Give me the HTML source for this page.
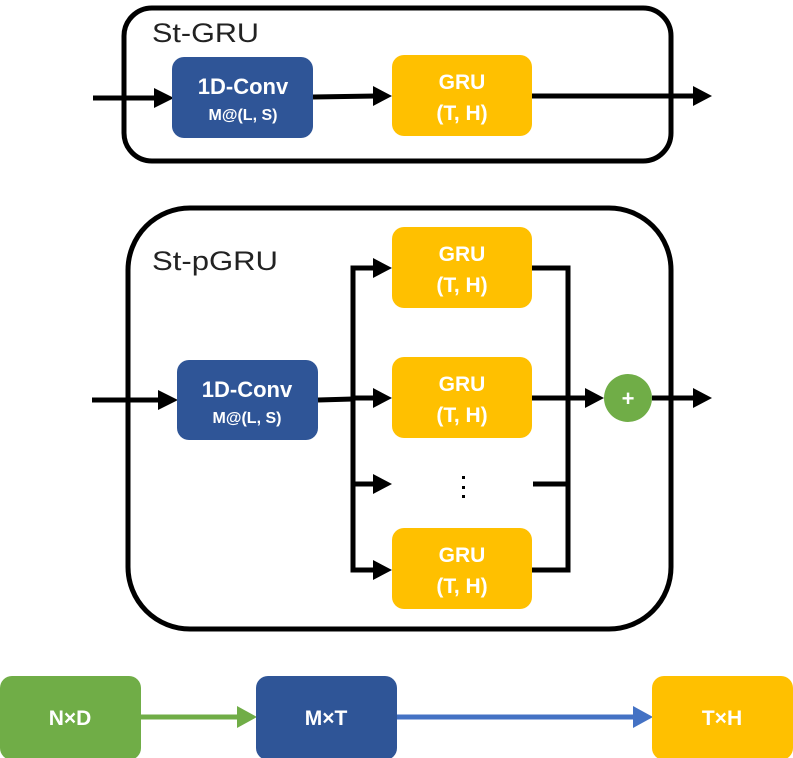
<!DOCTYPE html>
<html><head><meta charset="utf-8"><style>
html,body{margin:0;padding:0;background:#fff;}
svg{display:block;}
text{font-family:"Liberation Sans",sans-serif;}
</style></head><body>
<svg width="793" height="758" viewBox="0 0 793 758" xmlns="http://www.w3.org/2000/svg">
<!-- St-GRU box -->
<rect x="124" y="8" width="547" height="153" rx="28" fill="none" stroke="#000" stroke-width="5"/>
<text x="152" y="42" font-size="27" fill="#222" textLength="107" lengthAdjust="spacingAndGlyphs">St-GRU</text>
<line x1="93" y1="98" x2="156" y2="98" stroke="#000" stroke-width="5"/>
<polygon points="154,88 174,98 154,108" fill="#000"/>
<line x1="313" y1="97" x2="376" y2="96" stroke="#000" stroke-width="5"/>
<polygon points="373,86 392,96 373,106" fill="#000"/>
<line x1="532" y1="96" x2="696" y2="96" stroke="#000" stroke-width="5"/>
<polygon points="693,86 712,96 693,106" fill="#000"/>
<rect x="172" y="57" width="141" height="81" rx="12" fill="#2f5597"/>
<text x="243" y="94" font-size="22" font-weight="bold" fill="#fff" text-anchor="middle">1D-Conv</text>
<text x="243" y="120" font-size="16" font-weight="bold" fill="#fff" text-anchor="middle">M@(L, S)</text>
<rect x="392" y="55" width="140" height="81" rx="12" fill="#ffc000"/>
<text x="462" y="89" font-size="21" font-weight="bold" fill="#fff" text-anchor="middle">GRU</text>
<text x="462" y="120" font-size="21" font-weight="bold" fill="#fff" text-anchor="middle">(T, H)</text>

<!-- St-pGRU box -->
<rect x="128" y="208" width="543" height="421" rx="62" fill="none" stroke="#000" stroke-width="5"/>
<text x="152" y="270" font-size="27" fill="#222" textLength="126" lengthAdjust="spacingAndGlyphs">St-pGRU</text>
<line x1="92" y1="400" x2="160" y2="400" stroke="#000" stroke-width="5"/>
<polygon points="158,390 178,400 158,410" fill="#000"/>
<rect x="177" y="360" width="141" height="80" rx="12" fill="#2f5597"/>
<text x="247" y="397" font-size="22" font-weight="bold" fill="#fff" text-anchor="middle">1D-Conv</text>
<text x="247" y="423" font-size="16" font-weight="bold" fill="#fff" text-anchor="middle">M@(L, S)</text>
<line x1="318" y1="400" x2="353" y2="399" stroke="#000" stroke-width="5"/>
<polyline points="374,268 353,268 353,570 374,570" fill="none" stroke="#000" stroke-width="5"/>
<line x1="353" y1="398" x2="374" y2="398" stroke="#000" stroke-width="5"/>
<line x1="353" y1="484" x2="374" y2="484" stroke="#000" stroke-width="5"/>
<polygon points="373,258 392,268 373,278" fill="#000"/>
<polygon points="373,388 392,398 373,408" fill="#000"/>
<polygon points="373,474 392,484 373,494" fill="#000"/>
<polygon points="373,560 392,570 373,580" fill="#000"/>
<polyline points="532,268 568,268 568,570 532,570" fill="none" stroke="#000" stroke-width="5"/>
<line x1="532" y1="398" x2="588" y2="398" stroke="#000" stroke-width="5"/>
<line x1="533" y1="484" x2="568" y2="484" stroke="#000" stroke-width="5"/>
<polygon points="585,388 604,398 585,408" fill="#000"/>
<line x1="652" y1="398" x2="696" y2="398" stroke="#000" stroke-width="5"/>
<polygon points="693,388 712,398 693,408" fill="#000"/>
<circle cx="628" cy="398" r="24" fill="#70ad47"/>
<text x="628" y="406" font-size="22" font-weight="bold" fill="#fff" text-anchor="middle">+</text>
<rect x="392" y="227" width="140" height="81" rx="12" fill="#ffc000"/>
<text x="462" y="261" font-size="21" font-weight="bold" fill="#fff" text-anchor="middle">GRU</text>
<text x="462" y="292" font-size="21" font-weight="bold" fill="#fff" text-anchor="middle">(T, H)</text>
<rect x="392" y="357" width="140" height="81" rx="12" fill="#ffc000"/>
<text x="462" y="391" font-size="21" font-weight="bold" fill="#fff" text-anchor="middle">GRU</text>
<text x="462" y="422" font-size="21" font-weight="bold" fill="#fff" text-anchor="middle">(T, H)</text>
<rect x="392" y="528" width="140" height="81" rx="12" fill="#ffc000"/>
<text x="462" y="562" font-size="21" font-weight="bold" fill="#fff" text-anchor="middle">GRU</text>
<text x="462" y="593" font-size="21" font-weight="bold" fill="#fff" text-anchor="middle">(T, H)</text>
<rect x="462" y="476" width="3" height="3" fill="#000"/>
<rect x="462" y="486" width="3" height="3" fill="#000"/>
<rect x="462" y="495" width="3" height="3" fill="#000"/>

<!-- bottom -->
<rect x="0" y="676" width="141" height="84" rx="12" fill="#70ad47"/>
<text x="70" y="725" font-size="21" font-weight="bold" fill="#fff" text-anchor="middle">N×D</text>
<line x1="141" y1="717" x2="240" y2="717" stroke="#70ad47" stroke-width="5"/>
<polygon points="237,706 257,717 237,728" fill="#70ad47"/>
<rect x="256" y="676" width="141" height="84" rx="12" fill="#2f5597"/>
<text x="326" y="725" font-size="21" font-weight="bold" fill="#fff" text-anchor="middle">M×T</text>
<line x1="397" y1="717" x2="636" y2="717" stroke="#4472c4" stroke-width="5"/>
<polygon points="633,706 653,717 633,728" fill="#4472c4"/>
<rect x="652" y="676" width="141" height="84" rx="12" fill="#ffc000"/>
<text x="722" y="725" font-size="21" font-weight="bold" fill="#fff" text-anchor="middle">T×H</text>
</svg>
</body></html>
